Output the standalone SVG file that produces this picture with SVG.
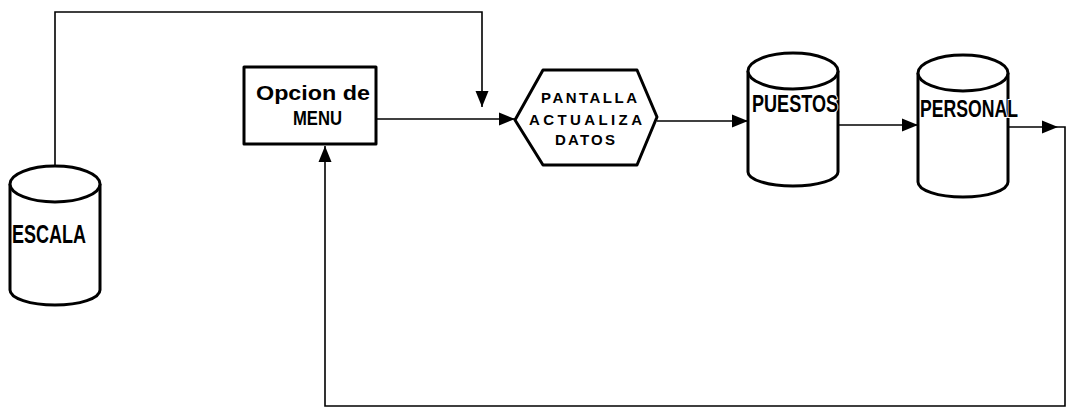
<svg xmlns="http://www.w3.org/2000/svg" width="1070" height="414" viewBox="0 0 1070 414">
<defs>
<marker id="arr" markerUnits="userSpaceOnUse" markerWidth="16" markerHeight="14" viewBox="0 0 16 14" refX="16" refY="7" orient="auto">
<path d="M0,0.5 L16,7 L0,13.5 Z" fill="#000"/>
</marker>
<style>
.shape{fill:#fff;stroke:#000;stroke-width:3;stroke-linejoin:round}
.conn{fill:none;stroke:#000;stroke-width:1.6}
.lbl{font-family:"Liberation Sans",Arial,sans-serif;font-weight:bold;fill:#000;stroke:#fff;stroke-width:2;paint-order:stroke}
.thin{font-family:"Liberation Sans",Arial,sans-serif;font-weight:bold;font-size:15px;fill:#000}
</style>
</defs>
<rect width="1070" height="414" fill="#fff"/>
<g id="connectors">
<path class="conn" d="M55,166 V12 H482 V107" marker-end="url(#arr)"/>
<path class="conn" d="M376,119 H515" marker-end="url(#arr)"/>
<path class="conn" d="M657,121 H748" marker-end="url(#arr)"/>
<path class="conn" d="M838,125 H918" marker-end="url(#arr)"/>
<path class="conn" d="M1008,127 H1058" marker-end="url(#arr)"/>
<path class="conn" d="M1058,127 H1065 V406 H325 V146" marker-end="url(#arr)"/>
</g>
<g id="escala">
<path class="shape" d="M10,184 A45,18 0 0 1 100,184 V290 A45,15 0 0 1 10,290 Z"/>
<path class="shape" fill="none" d="M10,184 A45,18 0 0 0 100,184"/>
<text class="lbl" x="12" y="243" font-size="25" textLength="74" lengthAdjust="spacingAndGlyphs">ESCALA</text>
</g>
<g id="menu">
<rect class="shape" x="244" y="67" width="132" height="77"/>
<text class="lbl" x="256" y="100" font-size="20" textLength="114" lengthAdjust="spacingAndGlyphs">Opcion de</text>
<text class="lbl" x="293" y="125" font-size="21" textLength="49" lengthAdjust="spacingAndGlyphs">MENU</text>
</g>
<g id="pantalla">
<polygon class="shape" points="515,120 543,70 637,70 657,117 637,165 543,165"/>
<text class="thin" x="541" y="103" textLength="96" lengthAdjust="spacing">PANTALLA</text>
<text class="thin" x="529" y="125" textLength="113" lengthAdjust="spacing">ACTUALIZA</text>
<text class="thin" x="555" y="145" textLength="60" lengthAdjust="spacing">DATOS</text>
</g>
<g id="puestos">
<path class="shape" d="M748,71 A45,18 0 0 1 838,71 V172 A45,14 0 0 1 748,172 Z"/>
<path class="shape" fill="none" d="M748,71 A45,18 0 0 0 838,71"/>
<text class="lbl" x="752" y="112" font-size="24" textLength="86" lengthAdjust="spacingAndGlyphs">PUESTOS</text>
</g>
<g id="personal">
<path class="shape" d="M918,73 A45,18 0 0 1 1008,73 V182 A45,15 0 0 1 918,182 Z"/>
<path class="shape" fill="none" d="M918,73 A45,18 0 0 0 1008,73"/>
<text class="lbl" x="920" y="117" font-size="24" textLength="98" lengthAdjust="spacingAndGlyphs">PERSONAL</text>
</g>
</svg>
